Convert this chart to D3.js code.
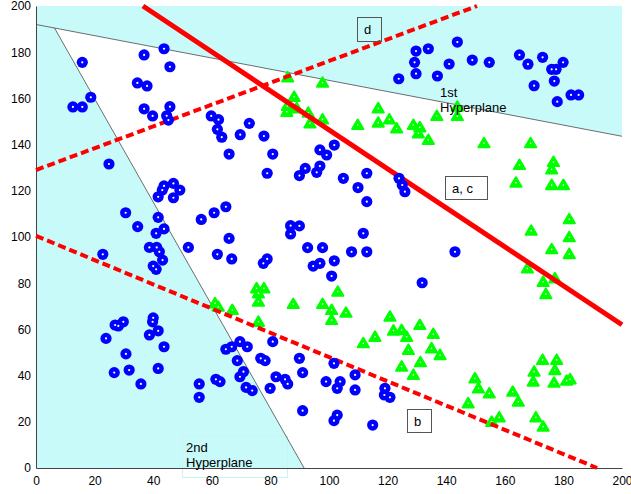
<!DOCTYPE html>
<html>
<head>
<meta charset="utf-8">
<script src="https://cdn.jsdelivr.net/npm/d3@7"></script>
<style>
  body { margin: 0; background: #fff; }
  text { font-family: "Liberation Sans", Arial, sans-serif; }
</style>
</head>
<body>
<svg class="chart"></svg>
<script>
const blueX = [15.8,36.9,43.7,45.7,34.6,37.9,18.7,12.6,15.8,36.9,39.8,45.7,44.6,45.2,24.9,59.8,62.3,61.9,63.4,72.8,
  69.7,77.8,65.9,80.8,96.9,101.8,99.2,129.7,129.2,129.7,123.8,133.9,143.8,141,148.9,154.7,137,165,167.9,172.9,
  176,177.5,179.9,176.9,170,177.9,182.6,185.2,78.9,89.9,91.9,95.8,96.9,104.9,112.9,109.9,112.9,123.9,125.9,125,
  56.4,60.8,64.8,65.9,61.9,66.8,86.9,89.9,86.9,77.6,78.9,92.7,97.8,94.6,96.9,101.8,100.9,111.7,107.7,112.9,
  143,131.8,41.7,43.7,46.9,49.1,46.9,43.1,30.6,34.7,41.7,41,43.7,52,22.8,38.7,41.2,42.1,43.2,40,
  41,23.9,27,28.1,29.8,39.8,40,38.7,41.7,43.7,30.7,26.7,31.8,41.7,35.8,55.7,55.7,61.4,62.8,64.8,
  66.8,69.6,72.1,68.7,70.8,69.6,71.7,73.8,76.7,78.2,80.8,81.9,85,85.9,79.9,89.9,91,91,99,101.7,
  103.8,102.8,108.9,108.9,102.8,101.7,114.9,119.1,118.9,120.8];
const blueY = [175.6,178.8,181.5,173.7,166.7,165.4,160.5,156.3,156.3,155.5,152.4,156.4,152.5,150.6,131.6,152.4,150.8,146.6,143.2,149.2,
  144.3,143.7,135.9,135.9,137.7,139.8,135.5,180.5,175.6,170.7,168.5,181.5,184.4,174.9,176.6,175.6,169.7,178.8,174.8,177.8,
  172.6,172.6,175.6,167.5,165.5,158.6,161.5,161.5,127.6,126.6,129.7,128,130.7,125.4,127.6,121.4,115.3,125.4,119.6,122.5,
  107.6,110.5,113.1,99.4,92.5,90.5,104.9,104.8,101.3,88.6,90.5,95.4,95.4,87.4,88.6,89.7,83.1,101.6,93.6,93.6,
  93.6,80.2,117.4,122.1,123.2,120.3,117,120.3,110.5,104.5,108.5,101.6,103.5,95.5,92.5,95.5,95.5,93.6,90,87.4,
  86,56.1,61.9,61.5,63.3,63.3,65,57.6,59.4,52.5,49.4,41.3,42.4,43.1,36.4,36.4,30.6,38.4,37.4,51.4,
  52.5,54.7,52.5,46.5,41.7,39.5,34.9,33.5,47.5,46.5,54.7,39.5,38.4,36.4,34.5,47.5,41.3,24.8,37.4,45.3,
  37.4,34.5,40.3,33.8,22.9,20.5,18.6,34.5,31.6,30.6];

const greenX = [85.9,97.8,88.1,85.8,89,92.9,93.5,97.8,85.6,109.8,116.8,116.8,120.6,123.1,128.8,130.5,131,133.9,136.8,143.8,
  143.8,152.9,168.8,165,176.6,176,163.8,176,180,182,182,182,169,176,167.7,173.1,177.1,174,75.3,77.8,
  75.9,75.9,61.1,62.2,67,75.9,87.8,97.8,100.9,100.9,103,105.8,120.8,111.7,115.7,122,124.8,126.5,127.1,124.8,
  128.8,131.2,131,135.6,135,137.9,149.8,151,147.5,154.7,155.5,158.1,162.7,164.6,172.9,177.7,177.1,170,169.7,176.8,
  181.1,182.3,170.6,173.1];
const greenY = [169.1,166.8,160.7,156.7,155.7,153.8,149.2,150.9,154.2,148.5,155.7,149.5,150.9,147,148.5,144.9,147.5,142,152.4,156.4,
  152.4,140.6,140.6,131.2,132.5,129.3,123.5,122.5,122.5,107.7,99.9,92.6,102.7,94.7,86.4,80.6,82.1,75.3,77.8,77.8,
  75.6,72,71.3,69.8,68.4,63.3,71,71,68.4,64.1,76.3,67.2,65.5,54,56.8,59.5,59.7,56.8,51.1,43.9,
  40.3,45.8,61.9,58,51.8,48.9,38.8,34.5,28,32.3,20,21.9,33,28.7,46.8,46.8,42.4,41.7,37.4,36.9,
  37.8,38.4,21.9,17.9];

const ticks = [0, 20, 40, 60, 80, 100, 120, 140, 160, 180, 200];

// hyperplanes and separating lines, as [x, y] end points
const hyper1 = [[0, 192], [200, 143.6]];
const hyper2 = [[6.3, 190.5], [91.5, 0]];
const lineAC = [[36.5, 200], [200, 62]];
const lineD = [[0, 129], [150.5, 200]];
const lineB = [[0, 100.5], [191.5, 0]];

const
  width = 631,
  height = 494,
  plot = {left: 36, right: 622, top: 6, bottom: 468};

const x = d3.scaleLinear().domain([0, 200]).range([plot.left, plot.right]);
const y = d3.scaleLinear().domain([0, 200]).range([plot.bottom, plot.top]);

const svg = d3.select(".chart")
  .attr("width", width)
  .attr("height", height);

svg.append("rect")
  .attr("x", x(0)).attr("y", y(200))
  .attr("width", x(200) - x(0)).attr("height", y(0) - y(200))
  .attr("fill", "#c8fafa");

const white = [hyper2[0], hyper1[1], [200, 0], hyper2[1]];
svg.append("path")
  .attr("d", d3.line().x(d => x(d[0])).y(d => y(d[1]))(white) + "Z")
  .attr("fill", "#fff");

// faint box of the 2nd hyperplane label
svg.append("rect")
  .attr("x", 182.5).attr("y", 436.5).attr("width", 105).attr("height", 41)
  .attr("fill", "none").attr("stroke", "#c8f4f4");

const line = d3.line().x(d => x(d[0])).y(d => y(d[1]));

[hyper1, hyper2].forEach(p => svg.append("path")
  .attr("d", line(p)).attr("stroke", "#4a4a4a").attr("stroke-width", 0.8).attr("fill", "none"));

const axisX = d3.axisBottom(x).tickValues(ticks).tickSize(0).tickPadding(8);
const axisY = d3.axisLeft(y).tickValues(ticks).tickSize(0).tickPadding(5);

const gx = svg.append("g").attr("transform", `translate(0,${plot.bottom})`).call(axisX);
const gy = svg.append("g").attr("transform", `translate(${plot.left},0)`).call(axisY);
[gx, gy].forEach(g => {
  g.select(".domain").attr("stroke", "#444");
  g.selectAll("text").attr("font-size", 12).attr("fill", "#000")
    .attr("font-family", "'Liberation Sans', Arial, sans-serif");
});

const tri = "M0,-6L5.6,3.6L-5.6,3.6Z";
const greens = svg.append("g");
greens.selectAll("path")
  .data(greenX.map((d, i) => [d, greenY[i]]))
  .enter()
  .append("path")
    .attr("d", tri)
    .attr("transform", d => `translate(${x(d[0])},${y(d[1]) + 0.5})`)
    .attr("fill", "#00ff00")
    .attr("stroke", "#00ff00")
    .attr("stroke-width", 2)
    .attr("stroke-linejoin", "round");
greens.selectAll("circle")
  .data(greenX.map((d, i) => [d, greenY[i]]))
  .enter()
  .append("circle")
    .attr("cx", d => x(d[0])).attr("cy", d => y(d[1]))
    .attr("r", 0.8).attr("fill", "#fff");

svg.append("path").attr("d", line(lineAC))
  .attr("stroke", "#ff0000").attr("stroke-width", 5).attr("fill", "none");
[lineD, lineB].forEach(p => svg.append("path")
  .attr("d", line(p)).attr("stroke", "#ff0000").attr("stroke-width", 4)
  .attr("stroke-dasharray", "8,4").attr("fill", "none"));

const blues = svg.append("g");
blues.selectAll("circle.b")
  .data(blueX.map((d, i) => [d, blueY[i]]))
  .enter()
  .append("circle")
    .attr("class", "b")
    .attr("cx", d => x(d[0])).attr("cy", d => y(d[1]))
    .attr("r", 5.6).attr("fill", "#0000ff");
blues.selectAll("circle.h")
  .data(blueX.map((d, i) => [d, blueY[i]]))
  .enter()
  .append("circle")
    .attr("class", "h")
    .attr("cx", d => x(d[0])).attr("cy", d => y(d[1]))
    .attr("r", 1.1).attr("fill", "#fff");

// boxed labels
const boxes = [
  {text: "d", x0: 357, y0: 17, x1: 381, y1: 41},
  {text: "a, c", x0: 445, y0: 176, x1: 487, y1: 199},
  {text: "b", x0: 407, y0: 409, x1: 431, y1: 432}
];
boxes.forEach(b => {
  svg.append("rect")
    .attr("x", b.x0 + 0.5).attr("y", b.y0 + 0.5)
    .attr("width", b.x1 - b.x0).attr("height", b.y1 - b.y0)
    .attr("fill", "none").attr("stroke", "#555");
  svg.append("text")
    .attr("x", b.x0 + 7).attr("y", (b.y0 + b.y1) / 2 + 5)
    .attr("font-size", 13).text(b.text);
});

const notes = [
  {lines: ["1st", "Hyperplane"], x: 440, y: 97},
  {lines: ["2nd", "Hyperplane"], x: 186, y: 452}
];
notes.forEach(n => {
  n.lines.forEach((t, i) => svg.append("text")
    .attr("x", n.x).attr("y", n.y + i * 14.5)
    .attr("font-size", 13).text(t));
});
</script>
</body>
</html>
